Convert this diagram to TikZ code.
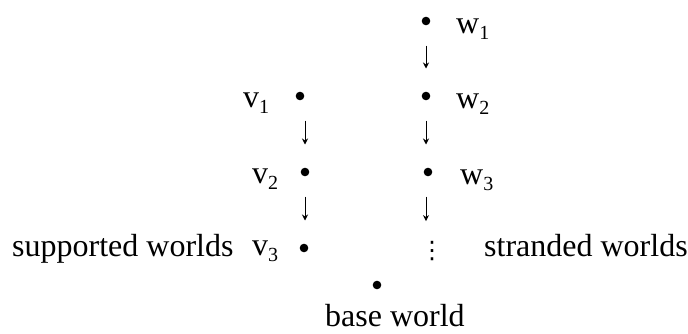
\documentclass[tikz,border=0pt]{standalone}
\usepackage{fontspec}
\setmainfont{Liberation Serif}
\newfontfamily\symfont{DejaVu Sans}
\usetikzlibrary{arrows.meta}
\newcommand{\lsub}[1]{\raisebox{-6pt}{\fontsize{20}{21}\selectfont #1}}
\tikzset{
  world/.style={circle, fill=black, inner sep=0pt, minimum size=8.6pt},
  lbl/.style={inner sep=0pt, anchor=base west},
  down/.style={->, line width=0.9pt, shorten <=20pt, shorten >=23pt}
}

\begin{document}
\begin{tikzpicture}[x=1pt, y=-1pt, font=\fontsize{32}{38}\selectfont, >={Stealth[length=6pt, width=6pt]}]
    \useasboundingbox (0,0) rectangle (688,333);
    % stranded chain
    \node[world] (w1) at (426,21) {};
    \node[world] (w2) at (426,96) {};
    \node[world] (w3) at (428,172) {};
    \node[inner sep=0pt, font=\fontsize{24}{26}\selectfont] (wdots) at (432,251) {\symfont ⋮};
    % supported chain
    \node[world] (v1) at (300,96) {};
    \node[world] (v2) at (305,172) {};
    \node[world] (v3) at (304,248) {};
    \node[world] (base) at (377,285) {};
    % labels
    \node[lbl] (lw1) at (456,33) {w\lsub{1}};
    \node[lbl] (lw2) at (456,108) {w\lsub{2}};
    \node[lbl] (lw3) at (460,184) {w\lsub{3}};
    \node[lbl] (lv1) at (243,107) {v\lsub{1}};
    \node[lbl] (lv2) at (252,183) {v\lsub{2}};
    \node[lbl] (lv3) at (252,255) {v\lsub{3}};
    \node[lbl] (supp) at (12,256) {supported worlds};
    \node[lbl] (strand) at (484,256) {stranded worlds};
    \node[lbl] (lbase) at (325,326) {base world};
    % arrows
    \draw[down] (w1.south -| w2) -- (w2.north);
    \draw[down] (w2.south) -- (w3.north -| w2);
    \draw[down, shorten >=20pt] (w3.south -| w2) -- (wdots.north -| w2);
    \draw[down] (v1.south -| v2) -- (v2.north);
    \draw[down] (v2.south) -- (v3.north -| v2);
\end{tikzpicture}
\end{document}
